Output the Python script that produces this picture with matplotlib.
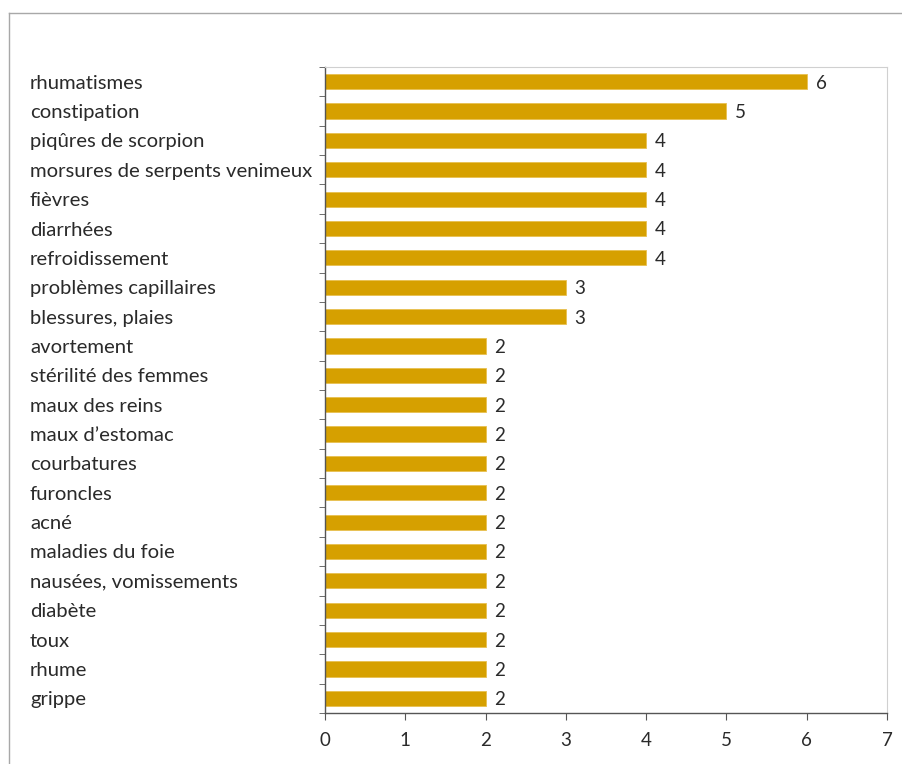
import matplotlib
matplotlib.use("Agg")
import matplotlib.pyplot as plt
from matplotlib.lines import Line2D
import numpy as np

plt.rcParams['font.family'] = ['Lato', 'DejaVu Sans']

labels = [
    "rhumatismes", "constipation", "piqûres de scorpion",
    "morsures de serpents venimeux", "fièvres", "diarrhées",
    "refroidissement", "problèmes capillaires", "blessures, plaies",
    "avortement", "stérilité des femmes", "maux des reins",
    "maux d’estomac", "courbatures", "furoncles", "acné",
    "maladies du foie", "nausées, vomissements", "diabète",
    "toux", "rhume", "grippe",
]
values = [6, 5, 4, 4, 4, 4, 4, 3, 3, 2, 2, 2, 2, 2, 2, 2, 2, 2, 2, 2, 2, 2]
xticks = [0, 1, 2, 3, 4, 5, 6, 7]

W, H = 902, 764
fig = plt.figure(figsize=(W / 100, H / 100), dpi=100)
ax = fig.add_axes([325 / W, 1 - 713 / H, (887 - 325) / W, (713 - 67) / H])

n = len(labels)
y = np.arange(n)
ax.barh(y, values, height=0.52, color="#D6A000", edgecolor="#E8C050", linewidth=0.6, zorder=2)
for yi, v in zip(y, values):
    ax.text(v + 0.11, yi + 0.05, str(v), va="center", ha="left", fontsize=13.5, color="#2a2a2a")

ax.set_xlim(0, 7)
ax.set_ylim(n - 0.5, -0.5)
ax.set_xticks(xticks)
ax.set_xticklabels([str(t) for t in xticks], fontsize=13.5, color="#2a2a2a")
ax.tick_params(axis="x", direction="out", length=5, color="#555555", pad=9)

ax.set_yticks(y)
ax.set_yticklabels(labels, fontsize=14.6, color="#2a2a2a", ha="left")
ax.tick_params(axis="y", which="major", length=0, pad=(325 - 30) * 0.72)
ax.set_yticks(np.arange(n + 1) - 0.5, minor=True)
ax.tick_params(axis="y", which="minor", direction="out", length=4, color="#555555")

for side in ("top", "right"):
    ax.spines[side].set_color("#d0d0d0")
    ax.spines[side].set_linewidth(0.8)
for side in ("left", "bottom"):
    ax.spines[side].set_color("#555555")
    ax.spines[side].set_linewidth(1.0)

# outer chart frame (top and left edges visible)
fig.add_artist(Line2D([9 / W, 1], [1 - 13 / H, 1 - 13 / H], color="#a8a8a8", linewidth=1.0))
fig.add_artist(Line2D([9 / W, 9 / W], [0, 1 - 13 / H], color="#a8a8a8", linewidth=1.0))

fig.savefig("out.png", dpi=100)
